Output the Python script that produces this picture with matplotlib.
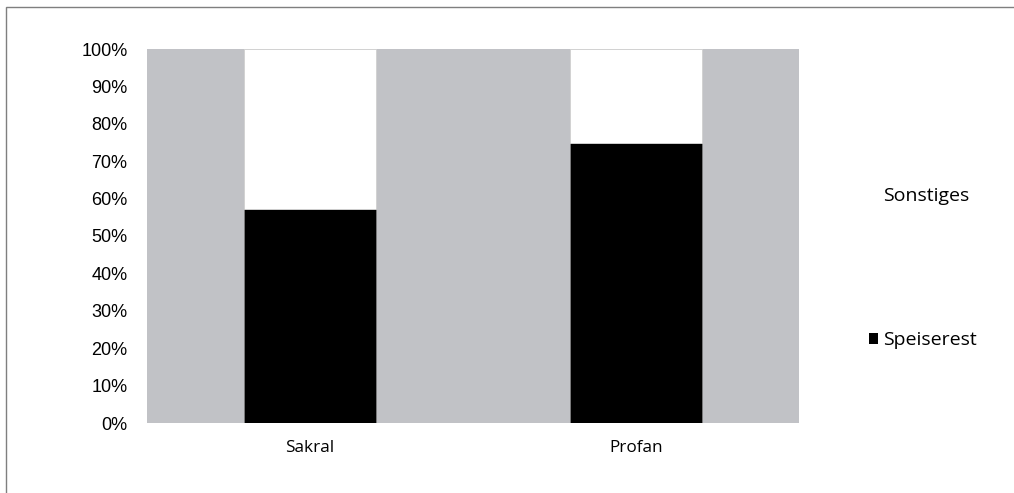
import numpy as np
import matplotlib.pyplot as plt
from matplotlib.patches import Rectangle

# Anteile je Fundkontext
kategorien = ['Sakral', 'Profan']
speiserest = [0.572, 0.749]
sonstiges = [1 - v for v in speiserest]
yticks = np.arange(0, 1.01, 0.1)
ytick_labels = ['%d%%' % round(t * 100) for t in yticks]

fig = plt.figure(figsize=(10.14, 4.93), dpi=100)
# Rahmen um die ganze Grafik
fig.patches.append(Rectangle((6 / 1014, -0.1), 1.2, (493 - 7) / 493 + 0.1,
                             transform=fig.transFigure, fill=False,
                             edgecolor='#7f7f7f', linewidth=1.0))

ax = fig.add_axes([147 / 1014, 70 / 493, 652 / 1014, 374 / 493])
ax.set_facecolor('#c1c2c6')

x = np.arange(len(kategorien))
b1 = ax.bar(x, speiserest, width=0.405, color='black', edgecolor='#7f7f7f',
            linewidth=0.6, label='Speiserest')
b2 = ax.bar(x, sonstiges, width=0.405, bottom=speiserest, color='white',
            edgecolor='#d0d0d0', linewidth=0.6, label='Sonstiges')

ax.set_xlim(-0.5, 1.5)
ax.set_ylim(0, 1)
ax.set_yticks(yticks)
ax.set_yticklabels(ytick_labels, family='Liberation Sans', fontsize=13)
ax.set_xticks(x)
ax.set_xticklabels(kategorien, family='Open Sans', fontsize=12.3)
ax.tick_params(axis='both', length=0)
ax.tick_params(axis='y', pad=14)
ax.tick_params(axis='x', pad=12)
for s in ax.spines.values():
    s.set_visible(False)

leg = ax.legend(handles=[b2, b1], labels=['Sonstiges', 'Speiserest'],
                loc='center left', bbox_to_anchor=(1.081, 0.414),
                frameon=False, prop={'family': 'Open Sans', 'size': 14},
                handlelength=0.46, handleheight=0.46, handletextpad=0.25,
                labelspacing=6.5)
for h in leg.legend_handles:
    h.set_edgecolor('none')

fig.savefig('out.png', dpi=100)
